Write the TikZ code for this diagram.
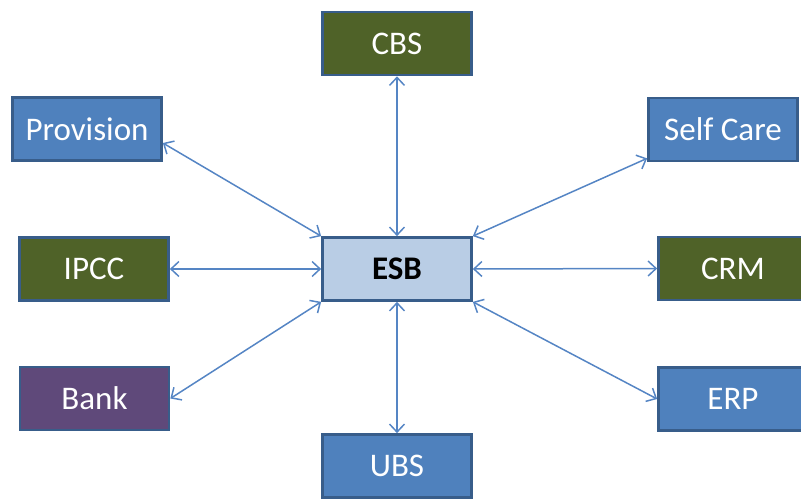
\documentclass[tikz,border=0pt]{standalone}
\usepackage{fontspec}
\setmainfont{Carlito}
\usetikzlibrary{arrows.meta}

\definecolor{boxblue}{HTML}{4F81BD}
\definecolor{boxedge}{HTML}{385D8A}
\definecolor{boxolive}{HTML}{4F6228}
\definecolor{boxpurple}{HTML}{5F497A}
\definecolor{hubfill}{HTML}{B9CDE5}
\definecolor{linkblue}{HTML}{5585C4}

\tikzset{
  sysbox/.style={draw=boxedge, line width=2.7pt, rectangle,
    minimum width=149pt, minimum height=63pt, inner sep=0pt,
    text=white, font=\fontsize{33}{38}\selectfont},
  bluebox/.style={sysbox, fill=boxblue},
  olivebox/.style={sysbox, fill=boxolive},
  purplebox/.style={sysbox, fill=boxpurple},
  hubbox/.style={sysbox, fill=hubfill, text=black,
    font=\fontsize{33}{38}\selectfont\bfseries},
  link/.style={draw=linkblue, line width=1.5pt,
    {Straight Barb[length=8pt,width=15pt,line width=1.5pt]}-{Straight Barb[length=8pt,width=15pt,line width=1.5pt]}}
}

\begin{document}
\begin{tikzpicture}[x=1pt, y=1pt]
  \useasboundingbox (0,0) rectangle (801,500);

  \node[hubbox]    (esb)  at (397, 231)   {ESB};
  \node[olivebox]  (cbs)  at (397, 456.5) {CBS};
  \node[bluebox]   (prov) at (87, 371)    {Provision};
  \node[bluebox]   (self) at (723, 370.5) {Self Care};
  \node[olivebox]  (ipcc) at (94, 231)    {IPCC};
  \node[olivebox]  (crm)  at (733, 231.5) {CRM};
  \node[purplebox] (bank) at (94.5, 101.5){Bank};
  \node[bluebox]   (erp)  at (733, 101)   {ERP};
  \node[bluebox]   (ubs)  at (397, 34)    {UBS};

  % links between the hub and every system
  \draw[link] (cbs.south) -- (esb.north);
  \draw[link] (ubs.north) -- (esb.south);
  \draw[link] (ipcc.east) -- (esb.west);
  \draw[link] (esb.east) -- (crm.west);
  \draw[link] ([yshift=-14pt]prov.east) -- (esb.north west);
  \draw[link] ([yshift=4pt]self.south west) -- (esb.north east);
  \draw[link] (esb.south east) -- (erp.west);
  \draw[link] (bank.east) -- (esb.south west);
\end{tikzpicture}
\end{document}
